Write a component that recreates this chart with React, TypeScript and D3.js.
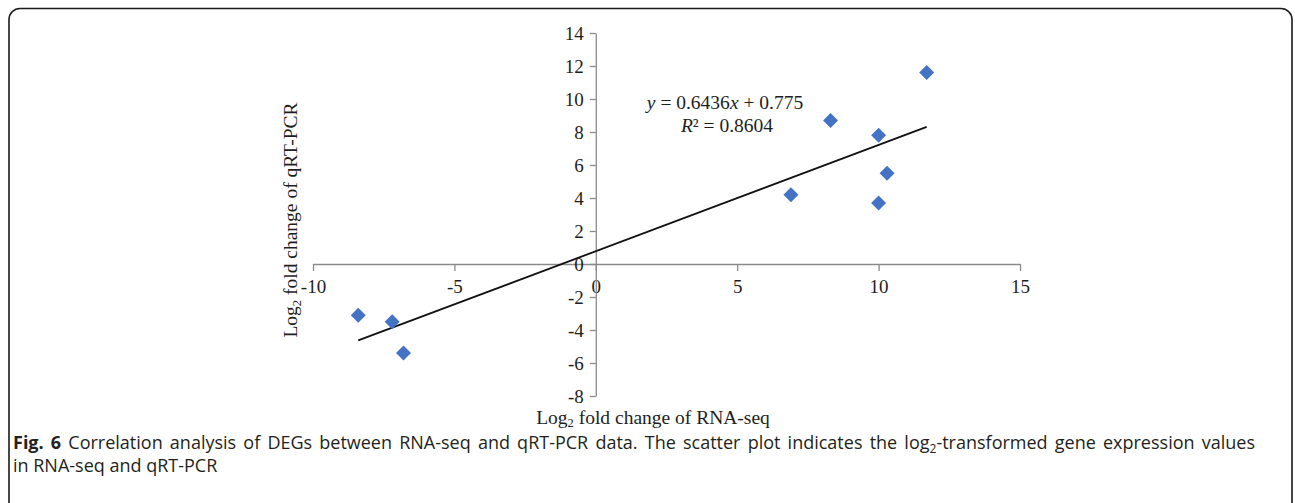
import React, { useEffect, useRef } from "react";
import * as d3 from "d3";

// values (log2 fold change)
const rnaSeq = [-8.4, -7.2, -6.8, 6.9, 8.3, 10.0, 10.3, 10.0, 11.7];
const qrtPcr = [-3.1, -3.5, -5.4, 4.2, 8.7, 7.8, 5.5, 3.7, 11.6];
const xTicks = [-10, -5, 0, 5, 10, 15];
const yTicks = [-8, -6, -4, -2, 0, 2, 4, 6, 8, 10, 12, 14];
const slope = 0.6436;
const intercept = 0.775;
const rSquared = 0.8604;

const W = 1295;
const H = 503;
const serif = "'Liberation Serif', 'Times New Roman', serif";
const sans = "'Open Sans', 'Noto Sans', sans-serif";

export default function App() {
  const ref = useRef<SVGSVGElement>(null);

  useEffect(() => {
    const svg = d3.select(ref.current);
    svg.selectAll("*").remove();

    const x = d3.scaleLinear().domain([-10, 15]).range([313, 1020]);
    const y = d3.scaleLinear().domain([-8, 14]).range([396, 33]);
    const axisColor = "#8a8a8a";
    const ink = "#1e1e1e";

    // frame (bottom edge runs off the page)
    svg
      .append("rect")
      .attr("x", 9)
      .attr("y", 8.5)
      .attr("width", 1283)
      .attr("height", 530)
      .attr("rx", 11)
      .attr("fill", "none")
      .attr("stroke", "#1a1a1a")
      .attr("stroke-width", 1.6);

    // x axis through y = 0
    const gx = svg
      .append("g")
      .attr("transform", `translate(0,${y(0)})`)
      .call(
        d3.axisBottom(x)
          .tickValues(xTicks)
          .tickFormat((d) => String(d))
          .tickSize(7)
          .tickSizeOuter(0)
          .tickPadding(9)
      );
    gx.select(".domain").attr("stroke", axisColor).attr("stroke-width", 1.3);
    gx.selectAll(".tick line").attr("stroke", axisColor).attr("stroke-width", 1.3);
    gx.selectAll("text")
      .attr("fill", ink)
      .style("font-family", serif)
      .style("font-size", "19px");

    // y axis through x = 0
    const gy = svg
      .append("g")
      .attr("transform", `translate(${x(0)},0)`)
      .call(
        d3.axisLeft(y)
          .tickValues(yTicks)
          .tickFormat((d) => String(d))
          .tickSize(6)
          .tickSizeOuter(0)
          .tickPadding(6)
      );
    gy.select(".domain").attr("stroke", axisColor).attr("stroke-width", 1.3);
    gy.selectAll(".tick line").attr("stroke", axisColor).attr("stroke-width", 1.3);
    gy.selectAll("text")
      .attr("fill", ink)
      .style("font-family", serif)
      .style("font-size", "19px");

    // trend line
    const x0 = d3.min(rnaSeq) as number;
    const x1 = d3.max(rnaSeq) as number;
    svg
      .append("line")
      .attr("x1", x(x0))
      .attr("y1", y(slope * x0 + intercept))
      .attr("x2", x(x1))
      .attr("y2", y(slope * x1 + intercept))
      .attr("stroke", "#111")
      .attr("stroke-width", 1.8);

    // points
    const diamond = d3.symbol().type(d3.symbolSquare).size(112);
    svg
      .append("g")
      .selectAll("path")
      .data(rnaSeq.map((v, i) => [v, qrtPcr[i]]))
      .enter()
      .append("path")
      .attr("d", diamond)
      .attr("transform", (d) => `translate(${x(d[0])},${y(d[1])}) rotate(45)`)
      .attr("fill", "#4472C4");

    // equation
    const eq = svg
      .append("text")
      .attr("x", 725)
      .attr("y", 109)
      .attr("text-anchor", "middle")
      .style("font-family", serif)
      .style("font-size", "19.5px")
      .attr("fill", ink);
    eq.append("tspan").attr("font-style", "italic").text("y");
    eq.append("tspan").text(` = ${slope}`);
    eq.append("tspan").attr("font-style", "italic").text("x");
    eq.append("tspan").text(` + ${intercept}`);

    const r2 = svg
      .append("text")
      .attr("x", 727)
      .attr("y", 132)
      .attr("text-anchor", "middle")
      .style("font-family", serif)
      .style("font-size", "19.5px")
      .attr("fill", ink);
    r2.append("tspan").attr("font-style", "italic").text("R");
    r2.append("tspan").text(`² = ${rSquared}`);

    // axis titles
    const xt = svg
      .append("text")
      .attr("x", 653)
      .attr("y", 424)
      .attr("text-anchor", "middle")
      .style("font-family", serif)
      .style("font-size", "19.5px")
      .attr("fill", ink);
    xt.append("tspan").text("Log");
    xt.append("tspan").attr("font-size", "12.5px").attr("dy", 3).text("2");
    xt.append("tspan").attr("dy", -3).text(" fold change of RNA-seq");

    const yt = svg
      .append("text")
      .attr("transform", `translate(297,220) rotate(-90)`)
      .attr("text-anchor", "middle")
      .style("font-family", serif)
      .style("font-size", "19.5px")
      .attr("fill", ink);
    yt.append("tspan").text("Log");
    yt.append("tspan").attr("font-size", "12.5px").attr("dy", 4).text("2");
    yt.append("tspan").attr("dy", -4).text(" fold change of qRT-PCR");

    // caption, first line justified
    const captionRest =
      " Correlation analysis of DEGs between RNA-seq and qRT-PCR data. The scatter plot indicates the log";
    const captionTail = "-transformed gene expression values";
    const c1 = svg
      .append("text")
      .attr("x", 13)
      .attr("y", 449)
      .style("font-family", sans)
      .style("font-size", "18px")
      .attr("fill", "#231f20");
    c1.append("tspan").attr("font-weight", "bold").text("Fig. 6");
    c1.append("tspan").text(captionRest);
    c1.append("tspan").attr("font-size", "12px").attr("dy", 4).text("2");
    c1.append("tspan").attr("dy", -4).text(captionTail);

    const node = c1.node() as SVGTextElement;
    const len = node.getComputedTextLength();
    const spaces = (("Fig. 6" + captionRest + captionTail).match(/ /g) || []).length;
    const target = 1255 - 13;
    if (len > 0 && len < target) c1.attr("word-spacing", (target - len) / spaces);

    svg
      .append("text")
      .attr("x", 13)
      .attr("y", 472)
      .style("font-family", sans)
      .style("font-size", "18px")
      .attr("fill", "#231f20")
      .text("in RNA-seq and qRT-PCR");
  }, []);

  return (
    <svg
      ref={ref}
      width={W}
      height={H}
      style={{ position: "absolute", left: 0, top: 0, background: "#fff" }}
    />
  );
}
